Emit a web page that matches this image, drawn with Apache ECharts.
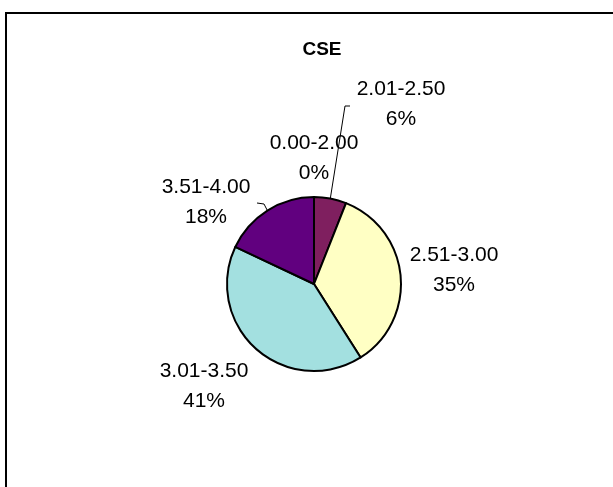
<!DOCTYPE html>
<html>
<head>
<meta charset="utf-8">
<script src="https://cdn.jsdelivr.net/npm/echarts@6/dist/echarts.min.js"></script>
<style>
  html, body { margin: 0; padding: 0; background: #fff; }
  #main { width: 613px; height: 487px; }
</style>
</head>
<body>
<div id="main"></div>
<script>
// CSE grade distribution
const categories = ["0.00-2.00", "2.01-2.50", "2.51-3.00", "3.01-3.50", "3.51-4.00"];
const percents = [0, 6, 35, 41, 18];
const colors = ["#9999FF", "#7F1F5F", "#FFFFC4", "#A3E0E0", "#61007F"];

// where excel put the labels (center of the text block)
const labelPos = [[314, 158], [401, 104], [454, 270], [204, 386], [206, 202]];
// leader line bends for labels that got moved away from their slice
const leaders = {
  1: [[345, 106], [350, 106]],
  4: [[264, 204], [257, 203]]
};

const chart = echarts.init(document.getElementById("main"));

chart.setOption({
  animation: false,
  title: {
    text: "CSE",
    left: 317,
    top: 35,
    textAlign: "center",
    textStyle: { fontFamily: "Liberation Sans", fontSize: 19, fontWeight: "bold", color: "#000" }
  },
  graphic: [{
    type: "rect",
    shape: { x: 6, y: 13, width: 700, height: 600 },
    style: { fill: "none", stroke: "#000", lineWidth: 2 },
    silent: true
  }],
  series: [{
    type: "pie",
    center: [314, 284],
    radius: 87,
    startAngle: 90,
    clockwise: true,
    avoidLabelOverlap: false,
    itemStyle: { borderColor: "#000", borderWidth: 2 },
    label: {
      show: true,
      position: "outside",
      color: "#000",
      fontFamily: "Liberation Sans",
      fontSize: 21,
      lineHeight: 30,
      align: "center",
      formatter: p => p.name + "\n" + p.value + "%"
    },
    labelLine: { show: true, lineStyle: { color: "#000", width: 1 } },
    labelLayout: function (params) {
      const i = params.dataIndex;
      const out = { x: labelPos[i][0], y: labelPos[i][1], align: "center", verticalAlign: "middle" };
      if (leaders[i] && params.labelLinePoints) {
        out.labelLinePoints = [params.labelLinePoints[0]].concat(leaders[i]);
      }
      return out;
    },
    data: categories.map((c, i) => ({
      name: c,
      value: percents[i],
      itemStyle: { color: colors[i] },
      labelLine: { show: !!leaders[i] }
    }))
  }]
});
</script>
</body>
</html>
